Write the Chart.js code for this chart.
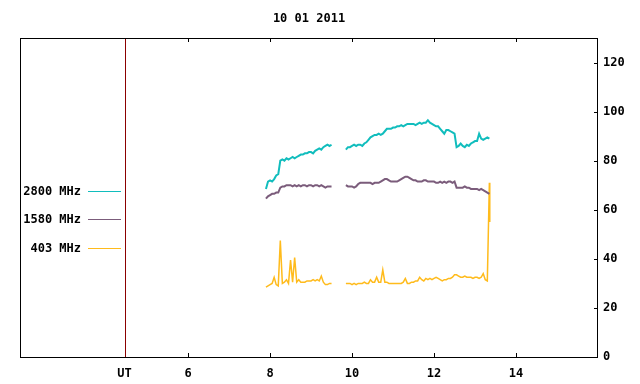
<!DOCTYPE html>
<html>
<head>
<meta charset="utf-8">
<script src="https://cdn.jsdelivr.net/npm/chart.js@4"></script>
<style>
  html, body { margin: 0; padding: 0; background: #fff; }
  canvas { display: block; }
</style>
</head>
<body>
<canvas id="radioFlux" width="640" height="384"></canvas>
<script>
const titleText = '10 01 2011';
const seriesLabels = ['2800 MHz', '1580 MHz', '403 MHz'];
const utMark = 4.45;                          // where the "UT" marker line sits
const xTicks = [utMark, 6, 8, 10, 12, 14];
const yTicks = [0, 20, 40, 60, 80, 100, 120];

// UT hours, one sample every 3 minutes; 9.70 marks the data gap
const times = [
    7.90, 7.95, 8.00, 8.05, 8.10, 8.15, 8.20, 8.25, 8.30, 8.35,
    8.40, 8.45, 8.50, 8.55, 8.60, 8.65, 8.70, 8.75, 8.80, 8.85,
    8.90, 8.95, 9.00, 9.05, 9.10, 9.15, 9.20, 9.25, 9.30, 9.35,
    9.40, 9.45, 9.50,
    9.70,
    9.85, 9.90, 9.95, 10.00, 10.05, 10.10, 10.15, 10.20, 10.25, 10.30,
    10.35, 10.40, 10.45, 10.50, 10.55, 10.60, 10.65, 10.70, 10.75, 10.80,
    10.85, 10.90, 10.95, 11.00, 11.05, 11.10, 11.15, 11.20, 11.25, 11.30,
    11.35, 11.40, 11.45, 11.50, 11.55, 11.60, 11.65, 11.70, 11.75, 11.80,
    11.85, 11.90, 11.95, 12.00, 12.05, 12.10, 12.15, 12.20, 12.25, 12.30,
    12.35, 12.40, 12.45, 12.50, 12.55, 12.60, 12.65, 12.70, 12.75, 12.80,
    12.85, 12.90, 12.95, 13.00, 13.05, 13.10, 13.15, 13.20, 13.25, 13.30,
    13.35, 13.36
];

const flux2800 = [
    68.5, 71.5, 72, 71.5, 72.5, 74, 74.5, 80, 80.5, 80,
    81, 80.5, 81, 81.5, 81, 81.5, 82, 82.5, 82.5, 83,
    83, 83.5, 83.5, 83, 84, 84.5, 85, 84.5, 85.5, 86,
    86.5, 86, 86.5,
    null,
    84.5, 85.5, 85.5, 86, 86.5, 86, 86.5, 86.5, 86, 87,
    87.5, 88.5, 89.5, 90, 90.5, 90.5, 91, 90.5, 91, 92,
    93, 93, 93, 93.5, 93.5, 94, 94, 94.5, 94, 94.5,
    95, 95, 95, 95, 94.5, 95, 95.5, 95, 95.5, 95.5,
    96.5, 95.5, 95, 94.5, 94, 94, 93, 92, 91, 92.5,
    92.5, 92, 91.5, 91, 85.5, 86, 87, 86, 85.5, 86.5,
    86, 87, 87.5, 88, 88, 91, 89, 88.5, 89, 89.5,
    89, null
];

const flux1580 = [
    64.5, 65.5, 66, 66.5, 66.5, 67, 67, 69, 69.5, 69.5,
    70, 70, 70, 69.5, 70, 69.5, 70, 69.5, 70, 70,
    69.5, 70, 70, 69.5, 70, 70, 69.5, 70, 69.5, 69,
    69.5, 69.5, 69.5,
    null,
    70, 69.5, 69.5, 69.5, 69, 69.5, 70.5, 71, 71, 71,
    71, 71, 71, 70.5, 71, 71, 71, 71.5, 72, 72.5,
    72.5, 72, 71.5, 71.5, 71.5, 71.5, 72, 72.5, 73, 73.5,
    73.5, 73, 72.5, 72, 72, 71.5, 71.5, 71.5, 72, 72,
    71.5, 71.5, 71.5, 71.5, 71, 71, 71.5, 71, 71.5, 71,
    71.5, 71.5, 71, 71.5, 69, 69, 69, 69, 69.5, 69,
    69, 68.5, 68.5, 68.5, 68.5, 68, 68.5, 68, 67.5, 67,
    66.5, null
];

const flux403 = [
    28.5, 29, 29.5, 30, 32.5, 29.5, 29, 47.5, 30, 30.5,
    31.5, 30, 39.5, 30.5, 40.5, 30.5, 31.5, 30.5, 30.5, 30.5,
    31, 31, 31, 31.5, 31, 31.5, 31, 33, 30.5, 29.5,
    29.5, 30, 30,
    null,
    30, 30, 30, 29.5, 30, 29.5, 30, 30, 30, 30.5,
    30, 30, 31.5, 30.5, 30.5, 32.5, 30.5, 30.5, 35.5, 30.5,
    30.5, 30, 30, 30, 30, 30, 30, 30, 30.5, 32,
    30, 30, 30.5, 30.5, 31, 31, 32.5, 31.5, 31, 32,
    31.5, 32, 31.5, 32, 32.5, 32, 31.5, 31, 31.5, 31.5,
    32, 32, 32.5, 33.5, 33.5, 33, 32.5, 32.5, 33, 32.5,
    32.5, 32.5, 32, 32.5, 32.5, 32, 32.5, 34, 31.5, 31,
    71, 55
];

const seriesValues = [flux2800, flux1580, flux403];
const seriesColors = ['#11bdbd', '#7b5c7b', '#ffbb1c'];
const seriesWidths = [2, 2, 1.5];

const FONT = 'bold 12px "DejaVu Sans Mono", "Liberation Mono", monospace';

function toPoints(values) {
    return times.map((t, i) => ({ x: t, y: values[i] }));
}

// frame, inward ticks, UT marker, title and legend the way gnuplot draws them
const gnuplotFrame = {
    id: 'gnuplotFrame',
    beforeDatasetsDraw(chart) {
        const { ctx, chartArea: a, scales: { x } } = chart;
        const ux = Math.round(x.getPixelForValue(utMark)) + 0.5;
        ctx.save();
        ctx.strokeStyle = '#8b0000';
        ctx.lineWidth = 1;
        ctx.beginPath();
        ctx.moveTo(ux, a.top);
        ctx.lineTo(ux, a.bottom);
        ctx.stroke();
        ctx.restore();
    },
    afterDraw(chart) {
        const { ctx, chartArea: a, scales: { x, y } } = chart;
        ctx.save();
        ctx.strokeStyle = '#000';
        ctx.lineWidth = 1;
        ctx.strokeRect(a.left + 0.5, a.top + 0.5, a.width - 1, a.height);

        ctx.beginPath();
        xTicks.filter(v => v !== utMark).forEach(v => {
            const px = Math.round(x.getPixelForValue(v)) + 0.5;
            ctx.moveTo(px, a.bottom);
            ctx.lineTo(px, a.bottom - 4);
            ctx.moveTo(px, a.top);
            ctx.lineTo(px, a.top + 4);
        });
        yTicks.filter(v => v > 0).forEach(v => {
            const py = Math.round(y.getPixelForValue(v)) + 0.5;
            ctx.moveTo(a.right, py);
            ctx.lineTo(a.right - 4, py);
        });
        ctx.stroke();

        ctx.font = FONT;
        ctx.fillStyle = '#000';
        ctx.textBaseline = 'middle';
        ctx.textAlign = 'center';
        ctx.fillText(titleText, (a.left + a.right) / 2, 19);

        // legend sits inside the plot, left side
        const rows = [191, 219, 248];
        chart.data.datasets.forEach((ds, i) => {
            ctx.textAlign = 'right';
            ctx.fillStyle = '#000';
            ctx.fillText(ds.label, 81, rows[i] + 1);
            ctx.strokeStyle = ds.borderColor;
            ctx.beginPath();
            ctx.moveTo(88, rows[i] + 0.5);
            ctx.lineTo(121, rows[i] + 0.5);
            ctx.stroke();
        });
        ctx.restore();
    }
};

const ctx = document.getElementById('radioFlux').getContext('2d');

new Chart(ctx, {
    type: 'line',
    data: {
        datasets: seriesLabels.map((label, i) => ({
            label: label,
            data: toPoints(seriesValues[i]),
            borderColor: seriesColors[i],
            borderWidth: seriesWidths[i],
            pointRadius: 0,
            tension: 0,
            fill: false,
            spanGaps: false,
        })),
    },
    options: {
        responsive: false,
        animation: false,
        layout: { padding: { top: 38, left: 20, right: 0, bottom: 0 } },
        plugins: {
            legend: { display: false },
            title: { display: false },
            tooltip: { enabled: false },
        },
        scales: {
            x: {
                type: 'linear',
                min: 1.9,
                max: 16,
                grid: { display: false, drawTicks: false },
                border: { display: false },
                afterBuildTicks: axis => { axis.ticks = xTicks.map(v => ({ value: v })); },
                afterFit: axis => { axis.height = 27; },
                ticks: {
                    autoSkip: false,
                    maxRotation: 0,
                    minRotation: 0,
                    padding: 10,
                    color: '#000',
                    font: { family: '"DejaVu Sans Mono", monospace', size: 12, weight: 'bold' },
                    callback: v => (v === utMark ? 'UT' : v),
                },
            },
            y: {
                type: 'linear',
                position: 'right',
                min: 0,
                max: 130,
                grid: { display: false, drawTicks: false },
                border: { display: false },
                afterBuildTicks: axis => { axis.ticks = yTicks.map(v => ({ value: v })); },
                afterFit: axis => { axis.width = 42; },
                ticks: {
                    padding: 5,
                    color: '#000',
                    font: { family: '"DejaVu Sans Mono", monospace', size: 12, weight: 'bold' },
                },
            },
        },
    },
    plugins: [gnuplotFrame],
});
</script>
</body>
</html>
